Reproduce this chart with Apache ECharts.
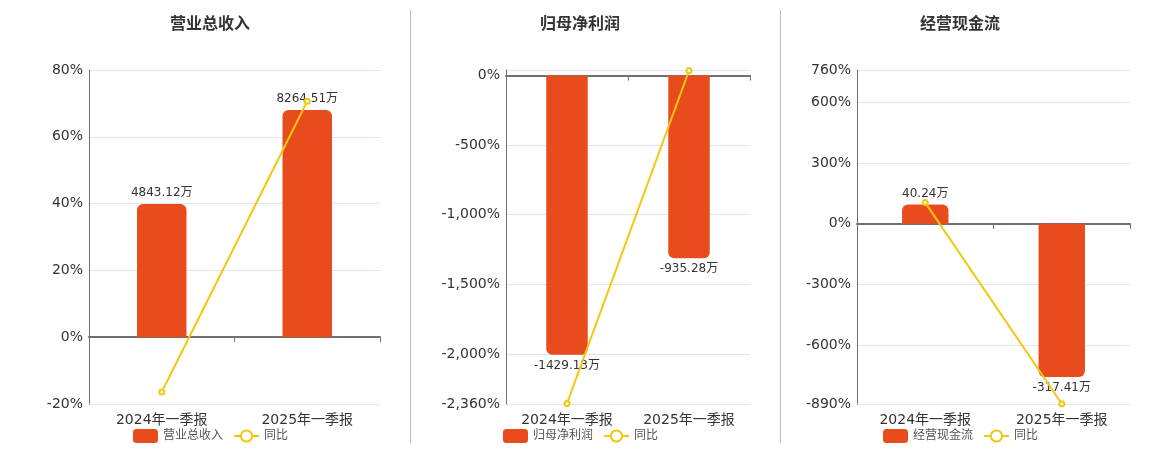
<!DOCTYPE html>
<html>
<head>
<meta charset="utf-8">
<script src="https://cdn.jsdelivr.net/npm/echarts@6/dist/echarts.min.js"></script>
<style>
html,body{margin:0;padding:0;background:#fff;}
#chart{width:1160px;height:450px;}
</style>
</head>
<body>
<div id="chart"></div>
<script>
// ---- data ----
const categories = ['2024年一季报', '2025年一季报'];
const titles = ['营业总收入', '归母净利润', '经营现金流'];
const yoyName = '同比';
const revenue = [4843.12, 8264.51];
const revenueYoy = [-16.4, 70.64];
const profit = [-1429.13, -935.28];
const profitYoy = [-2356, 34.56];
const cashflow = [40.24, -317.41];
const cashflowYoy = [105, -888.8];
// yoy axis ranges and tick labels
const yoyAxisMin = [-20, -2360, -890];
const yoyAxisMax = [80, 40, 760];
const revenueTicks = [-20, 0, 20, 40, 60, 80];
const profitTicks = [-2360, -2000, -1500, -1000, -500, 0];
const cashflowTicks = [-890, -600, -300, 0, 300, 600, 760];

const barData = [revenue, profit, cashflow];
const yoyData = [revenueYoy, profitYoy, cashflowYoy];
const tickLabels = [revenueTicks, profitTicks, cashflowTicks];

// ---- layout ----
const grids = [
  {left: 89, top: 70, width: 291, height: 334},
  {left: 506, top: 70, width: 244, height: 334},
  {left: 857, top: 70, width: 273, height: 334}
];
const panelCenters = [210, 580, 960];
const legendLefts = [128, 498, 878];
const BAR_COLOR = '#E84C1D';
const LINE_COLOR = '#F2C80F';
const AXIS_COLOR = '#6E7079';

function fmtPct(v) {
  return Math.round(v).toLocaleString('en-US') + '%';
}

const option = {
  animation: false,
  textStyle: {fontFamily: 'DejaVu Sans, Noto Sans CJK SC, sans-serif'},
  title: titles.map((t, i) => ({
    text: t,
    left: panelCenters[i] - 5,
    top: 12,
    textAlign: 'center',
    textStyle: {fontSize: 16, fontWeight: 'bold', color: '#333'}
  })),
  legend: titles.map((t, i) => ({
    data: [t, yoyName],
    left: legendLefts[i],
    top: 424,
    itemWidth: 25,
    itemHeight: 14,
    itemGap: 10,
    textStyle: {fontSize: 12, color: '#555'}
  })),
  graphic: [
    {type: 'line', shape: {x1: 410.5, y1: 10, x2: 410.5, y2: 443}, style: {stroke: '#bbb', lineWidth: 1}},
    {type: 'line', shape: {x1: 780.5, y1: 10, x2: 780.5, y2: 443}, style: {stroke: '#bbb', lineWidth: 1}}
  ],
  grid: grids,
  xAxis: [],
  yAxis: [],
  series: []
};

titles.forEach((t, i) => {
  // label axis at bottom
  option.xAxis.push({
    gridIndex: i, type: 'category', data: categories, position: 'bottom',
    axisLine: {show: false, onZero: false}, axisTick: {show: false},
    axisLabel: {fontSize: 14, color: '#333', margin: 9}
  });
  // zero line axis
  option.xAxis.push({
    gridIndex: i, type: 'category', data: categories, position: 'bottom',
    axisLine: {show: true, onZero: true, lineStyle: {color: AXIS_COLOR, width: 2}},
    axisTick: {show: true, length: 5, lineStyle: {color: AXIS_COLOR}},
    axisLabel: {show: false}
  });
  const lo = yoyAxisMin[i], hi = yoyAxisMax[i];
  const labels = tickLabels[i];
  const tickVals = labels.indexOf(hi) < 0 ? labels.concat([hi]) : labels;
  option.yAxis.push({
    gridIndex: i, type: 'value', min: lo, max: hi,
    axisLine: {show: true, lineStyle: {color: AXIS_COLOR}},
    axisTick: {show: false, customValues: tickVals},
    splitLine: {show: true, lineStyle: {color: '#E0E6F1'}},
    axisLabel: {fontSize: 14, color: '#333', margin: 6, padding: [5, 0, 0, 0],
      formatter: fmtPct, customValues: labels}
  });
  // hidden bar axis aligned on zero
  const bars = barData[i];
  const maxPos = Math.max(0, ...bars), maxNeg = Math.max(0, ...bars.map(v => -v));
  const s = Math.max(maxPos / (0.85 * hi), maxNeg / (0.85 * -lo));
  option.yAxis.push({
    gridIndex: i, type: 'value', min: lo * s, max: hi * s, show: false,
    splitLine: {show: false}
  });
  option.series.push({
    name: t, type: 'bar', xAxisIndex: 2 * i, yAxisIndex: 2 * i + 1,
    barWidth: '34%',
    itemStyle: {color: BAR_COLOR},
    label: {show: true, fontSize: 12, color: '#333', formatter: p => p.value + '万'},
    data: bars.map(v => ({
      value: v,
      itemStyle: {borderRadius: v >= 0 ? [6, 6, 0, 0] : [0, 0, 6, 6]},
      label: {position: v >= 0 ? 'top' : 'bottom'}
    }))
  });
  option.series.push({
    name: yoyName, type: 'line', xAxisIndex: 2 * i, yAxisIndex: 2 * i,
    symbol: 'emptyCircle', symbolSize: 5, z: 5,
    itemStyle: {color: LINE_COLOR},
    lineStyle: {color: LINE_COLOR, width: 2},
    data: yoyData[i]
  });
});

const chart = echarts.init(document.getElementById('chart'));
chart.setOption(option);
</script>
</body>
</html>
